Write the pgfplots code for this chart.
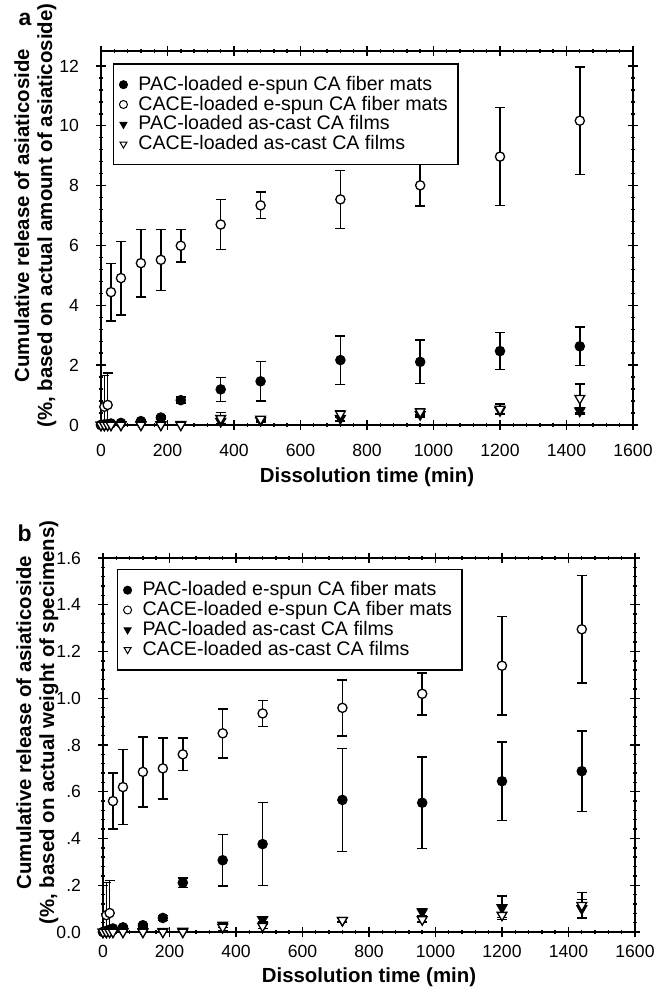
\documentclass[border=0pt]{standalone}
\usepackage{fontspec}
\setmainfont{Liberation Sans}
\usepackage{pgfplots}
\usepackage{pgfplotstable}
\pgfplotsset{compat=1.18}

% panel a: time (min), release (%), error
\pgfplotstableread{
t v e
0 0 0
10 0.02 0.01
20 0.03 0.01
30 0.05 0.02
60 0.07 0.02
120 0.13 0.03
180 0.25 0.05
240 0.83 0.10
360 1.19 0.40
480 1.46 0.66
720 2.17 0.81
960 2.11 0.73
1200 2.47 0.62
1440 2.63 0.64
}\pacfibA
\pgfplotstableread{
t v e
0 0 0
10 0.61 1.05
20 0.67 1.07
30 4.44 0.96
60 4.91 1.23
120 5.41 1.13
180 5.52 1.02
240 5.99 0.54
360 6.70 0.83
480 7.34 0.44
720 7.54 0.97
960 8.01 0.69
1200 8.97 1.64
1440 10.17 1.80
}\cacefibA
\pgfplotstableread{
t v e
0 0 0
10 0 0
20 0.01 0
30 0.01 0
60 0.01 0
120 0.01 0
180 0.01 0
240 0.02 0
360 0.12 0.08
480 0.15 0.05
720 0.22 0.08
960 0.35 0.08
1200 0.48 0.10
1440 0.47 0.10
}\pacfilmA
\pgfplotstableread{
t v e
0 0 0
10 0 0
20 0 0
30 0 0
60 0 0
120 0 0
180 0 0
240 0 0
360 0.22 0.20
480 0.20 0.05
720 0.37 0.10
960 0.44 0.10
1200 0.53 0.18
1440 0.89 0.48
}\cacefilmA

% panel b
\pgfplotstableread{
t v e
0 0 0
10 0.005 0.003
20 0.010 0.005
30 0.015 0.005
60 0.020 0.005
120 0.029 0.008
180 0.060 0.010
240 0.211 0.020
360 0.307 0.110
480 0.376 0.178
720 0.565 0.220
960 0.553 0.196
1200 0.645 0.168
1440 0.688 0.172
}\pacfibB
\pgfplotstableread{
t v e
0 0 0
10 0.072 0.14
20 0.081 0.14
30 0.560 0.12
60 0.620 0.16
120 0.685 0.15
180 0.700 0.13
240 0.760 0.07
360 0.850 0.105
480 0.935 0.055
720 0.959 0.12
960 1.019 0.09
1200 1.139 0.21
1440 1.295 0.23
}\cacefibB
\pgfplotstableread{
t v e
0 0 0
10 0 0
20 0.002 0
30 0.002 0
60 0.002 0
120 0.002 0
180 0.003 0
240 0.004 0
360 0.030 0.010
480 0.053 0.010
720 0.050 0.010
960 0.086 0.015
1200 0.104 0.050
1440 0.100 0.040
}\pacfilmB
\pgfplotstableread{
t v e
0 0 0
10 0 0
20 0 0
30 0 0
60 0 0
120 0 0
180 0 0
240 0 0
360 0.021 0.015
480 0.025 0.010
720 0.050 0.008
960 0.053 0.010
1200 0.072 0.010
1440 0.114 0.055
}\cacefilmB

\pgfplotsset{
  relax/.style={
    scale only axis, width=266pt, height=187pt,
    xmin=0, xmax=1600, xtick={0,200,...,1600},
    minor x tick num=4, minor y tick num=4,
    tick align=center, major tick length=5pt, minor tick length=2.2pt,
    axis line style={line width=0.75pt}, every tick/.style={line width=0.7pt, black},
    /pgf/number format/1000 sep={}, /pgf/number format/assume math mode=true,
    tick label style={font=\fontsize{8.8}{10}\selectfont},
    yticklabel style={xshift=-5pt},
    xlabel={Dissolution time (min)},
    label style={font=\bfseries\fontsize{10.2}{11.5}\selectfont},
    xlabel style={at={(axis description cs:0.5,0)}, anchor=center},
    ylabel style={align=center, at={(axis description cs:-0.083,0.56)}, anchor=south, inner sep=0pt},
    legend cell align=left,
    legend style={font=\fontsize{9.8}{9.5}\selectfont, draw=black, line width=0.75pt,
      inner xsep=3pt, inner ysep=4pt, row sep=-2.7pt,
      /tikz/every odd column/.append style={column sep=3.5pt}},
    legend image post style={mark size=2pt, line width=0.5pt},
    clip=true,
  },
  ebar/.style={only marks, black, line width=0.65pt,
    error bars/y dir=both, error bars/y explicit,
    error bars/error bar style={line width=0.75pt},
    error bars/error mark options={rotate=90, mark size=2.5pt, line width=0.75pt}},
  fcirc/.style={ebar, mark=*, mark size=2.3pt, mark options={fill=black, draw=black}},
  ocirc/.style={ebar, mark=*, mark size=2.3pt, mark options={fill=white, draw=black}},
  ftri/.style={ebar, mark=triangle*, mark size=2.8pt, mark options={rotate=180, fill=black, draw=black}},
  otri/.style={ebar, mark=triangle*, mark size=2.8pt, mark options={rotate=180, fill=white, draw=black}},
}

\begin{document}
\begin{tikzpicture}
\useasboundingbox (0,0) rectangle (329pt,496.5pt);

% ---- panel a
\begin{axis}[relax, at={(50.5pt,284pt)}, anchor=south west,
    ymin=0, ymax=12.5, ytick={0,2,...,12},
    xticklabel style={yshift=-3.5pt},
    xlabel style={yshift=-26pt},
    ylabel={Cumulative release of asiaticoside\\(\%, based on actual amount of asiaticoside)},
    legend style={at={(axis description cs:0.022,0.967)}, anchor=north west}]
\addplot+[fcirc] table[x=t, y=v, y error=e] {\pacfibA};
\addlegendentry{PAC-loaded e-spun CA fiber mats}
\addplot+[ocirc] table[x=t, y=v, y error=e] {\cacefibA};
\addlegendentry{CACE-loaded e-spun CA fiber mats}
\addplot+[ftri] table[x=t, y=v, y error=e] {\pacfilmA};
\addlegendentry{PAC-loaded as-cast CA films}
\addplot+[otri] table[x=t, y=v, y error=e] {\cacefilmA};
\addlegendentry{CACE-loaded as-cast CA films}
\end{axis}

% ---- panel b
\begin{axis}[relax, at={(51.5pt,30.5pt)}, anchor=south west,
    ymin=0, ymax=1.6, ytick={0,0.2,...,1.6},
    yticklabels={0.0,.2,.4,.6,.8,1.0,1.2,1.4,1.6},
    xticklabel style={yshift=-0.5pt},
    xlabel style={yshift=-22.5pt},
    ylabel={Cumulative release of asiaticoside\\(\%, based on actual weight of specimens)},
    ylabel style={at={(axis description cs:-0.083,0.56)}},
    legend style={at={(axis description cs:0.026,0.971)}, anchor=north west}]
\addplot+[fcirc] table[x=t, y=v, y error=e] {\pacfibB};
\addlegendentry{PAC-loaded e-spun CA fiber mats}
\addplot+[ocirc] table[x=t, y=v, y error=e] {\cacefibB};
\addlegendentry{CACE-loaded e-spun CA fiber mats}
\addplot+[ftri] table[x=t, y=v, y error=e] {\pacfilmB};
\addlegendentry{PAC-loaded as-cast CA films}
\addplot+[otri] table[x=t, y=v, y error=e] {\cacefilmB};
\addlegendentry{CACE-loaded as-cast CA films}
\end{axis}

\node[font=\bfseries\fontsize{11.5}{13}\selectfont] at (12.5pt,487pt) {a};
\node[font=\bfseries\fontsize{11.5}{13}\selectfont] at (12.3pt,230pt) {b};
\end{tikzpicture}
\end{document}
